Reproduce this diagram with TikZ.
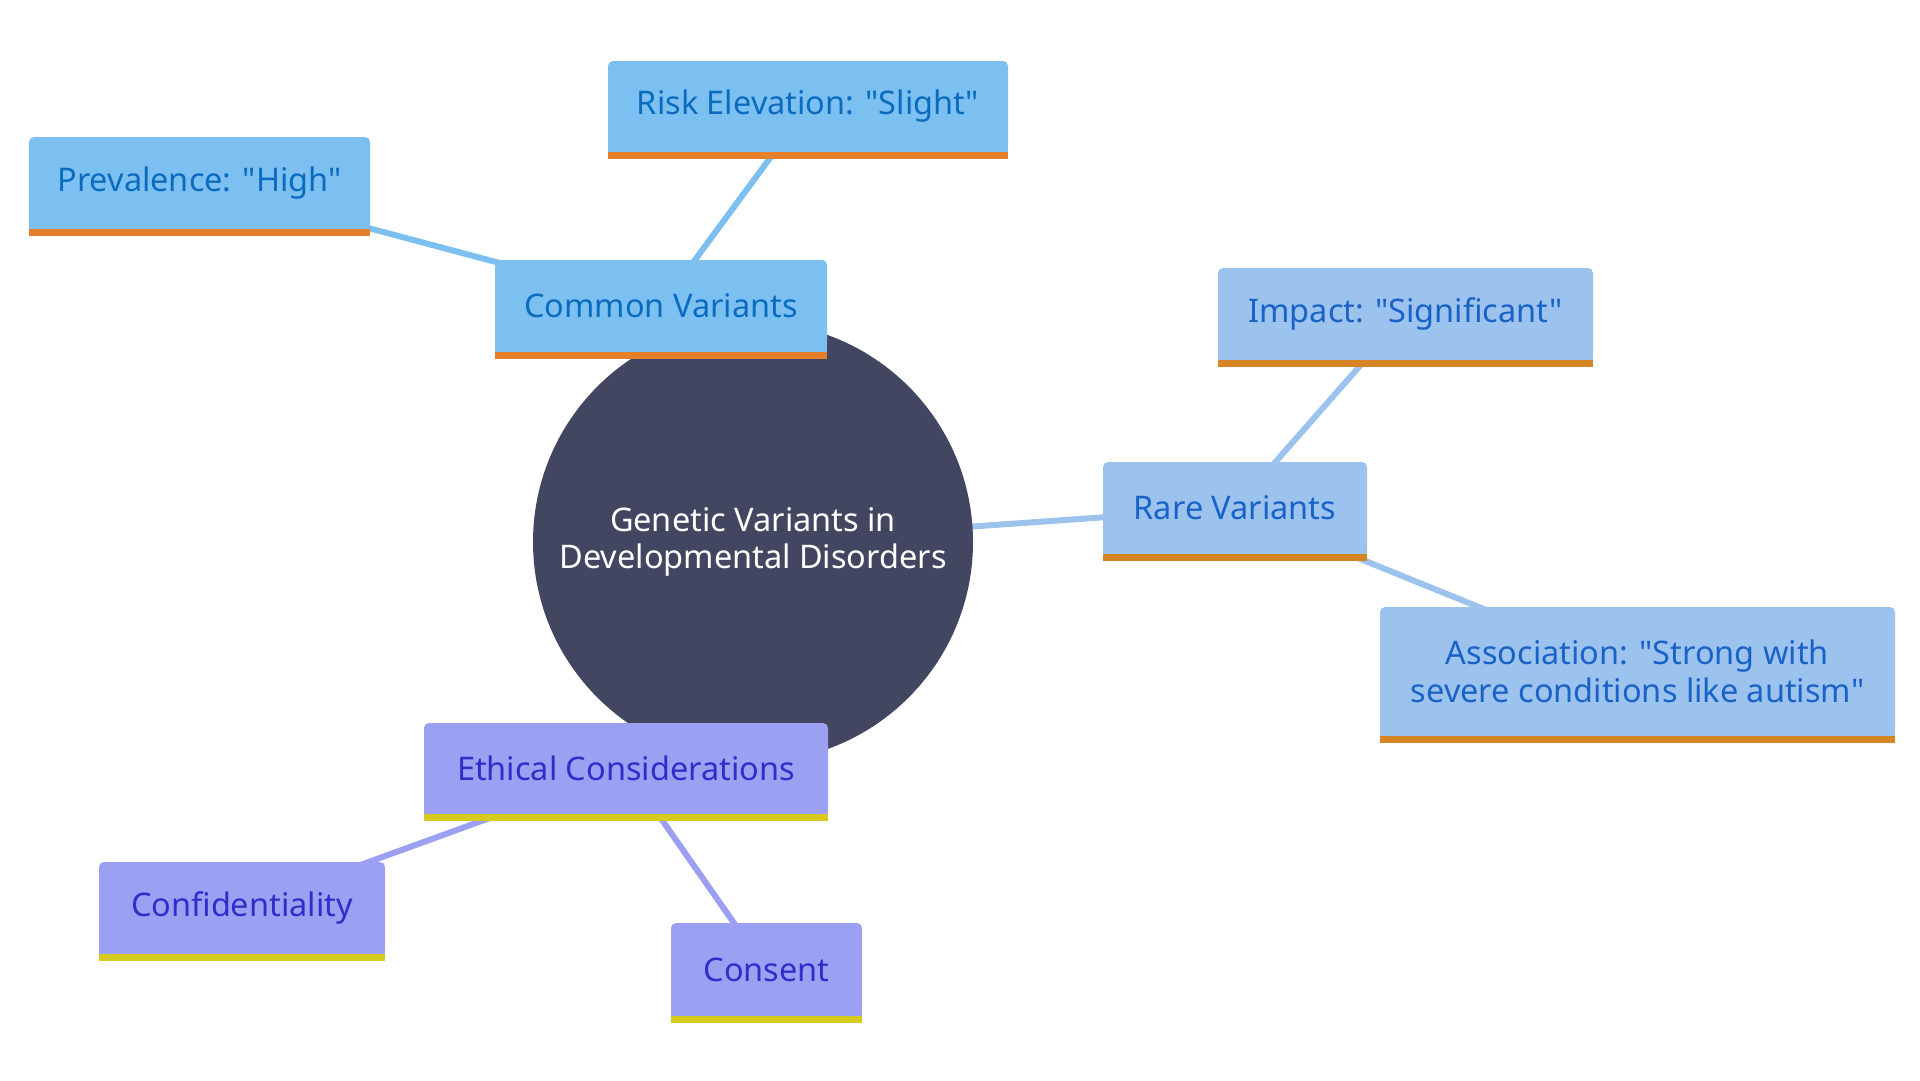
\documentclass[tikz,border=0pt]{standalone}
\usepackage{fontspec}
\setmainfont{Noto Sans}[Ligatures=TeXOff]
\pgfdeclarelayer{bg}
\pgfsetlayers{bg,main}
\definecolor{cfill}{HTML}{7CC0F1}
\definecolor{ctext}{HTML}{0B6CBF}
\definecolor{cbar}{HTML}{E57F2A}
\definecolor{rfill}{HTML}{9BC3EE}
\definecolor{rtext}{HTML}{1A62C8}
\definecolor{rbar}{HTML}{D68424}
\definecolor{efill}{HTML}{9CA0F2}
\definecolor{etext}{HTML}{2E2ECB}
\definecolor{ebar}{HTML}{D6CB1E}
\definecolor{core}{HTML}{424660}
\newcommand{\boxfont}{\fontsize{32.5}{37.5}\selectfont}
\newcommand{\mkbar}[3]{%
  \fill[#2] ([yshift=8pt]#1.south west) rectangle (#1.south east);
  \fill[#3] (#1.south west) rectangle ([yshift=-7pt]#1.south east);}
\tikzset{
  box/.style={rounded corners=5pt, inner sep=0pt, align=center, font=\boxfont},
  cbox/.style={box, fill=cfill, text=ctext},
  rbox/.style={box, fill=rfill, text=rtext},
  ebox/.style={box, fill=efill, text=etext},
  link/.style={line width=6pt},
}
\begin{document}
\begin{tikzpicture}[x=1pt,y=-1pt]
\useasboundingbox (0,0) rectangle (1920,1080);
\node[circle, fill=core, text=white, minimum size=440pt, inner sep=0pt, align=center, font=\boxfont] (root) at (753,542) {Genetic Variants in\\Developmental Disorders};
% common
\node[cbox, minimum width=332pt, minimum height=92pt] (common) at (661,306) {Common Variants};
\node[cbox, minimum width=341pt, minimum height=92pt] (prev) at (199.5,183) {Prevalence: "High"};
\node[cbox, minimum width=400pt, minimum height=91pt] (risk) at (808,106.5) {Risk Elevation: "Slight"};
% rare
\node[rbox, minimum width=264pt, minimum height=92pt] (rare) at (1235,508) {Rare Variants};
\node[rbox, minimum width=375pt, minimum height=92pt] (impact) at (1405.5,314) {Impact: "Significant"};
\node[rbox, minimum width=515pt, minimum height=129pt] (assoc) at (1637.5,671.5) {Association: "Strong with\\severe conditions like autism"};
% ethical
\node[ebox, minimum width=404pt, minimum height=91pt] (ethic) at (626,768.5) {Ethical Considerations};
\node[ebox, minimum width=286pt, minimum height=92pt] (conf) at (242,908) {Confidentiality};
\node[ebox, minimum width=191pt, minimum height=93pt] (consent) at (766.5,969.5) {Consent};
\mkbar{common}{cfill}{cbar}
\mkbar{prev}{cfill}{cbar}
\mkbar{risk}{cfill}{cbar}
\mkbar{rare}{rfill}{rbar}
\mkbar{impact}{rfill}{rbar}
\mkbar{assoc}{rfill}{rbar}
\mkbar{ethic}{efill}{ebar}
\mkbar{conf}{efill}{ebar}
\mkbar{consent}{efill}{ebar}
\begin{pgfonlayer}{bg}
\draw[link, cfill] (root.center) -- (common.center);
\draw[link, cfill] (common.center) -- (prev.center);
\draw[link, cfill] (common.center) -- (risk.center);
\draw[link, rfill] (root.center) -- (rare.center);
\draw[link, rfill] (rare.center) -- (impact.center);
\draw[link, rfill] (rare.center) -- (assoc.center);
\draw[link, efill] (root.center) -- (ethic.center);
\draw[link, efill] (ethic.center) -- (conf.center);
\draw[link, efill] (ethic.center) -- (consent.center);
\end{pgfonlayer}
\end{tikzpicture}
\end{document}
